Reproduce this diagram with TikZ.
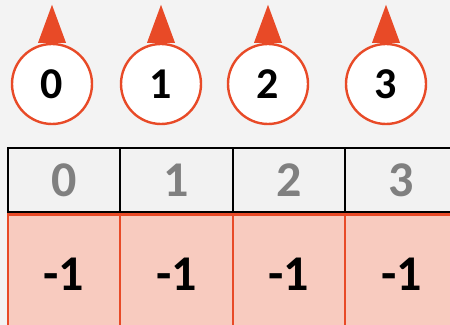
\documentclass[tikz,border=0pt]{standalone}
\usepackage{fontspec}
\setmainfont{Carlito}
\usetikzlibrary{positioning}
\definecolor{ptrorange}{HTML}{E84A27}
\definecolor{cellpink}{HTML}{F8CBBF}
\definecolor{headgray}{HTML}{F2F2F2}
\definecolor{idxgray}{HTML}{808080}
\definecolor{bggray}{HTML}{F3F3F3}

\begin{document}
\begin{tikzpicture}[
  x=0.5pt, y=-0.5pt,
  ptr/.style={circle, draw=ptrorange, line width=1.2pt, fill=white, minimum size=40pt, inner sep=0pt, font=\bfseries\fontsize{22}{22}\selectfont},
  tip/.style={fill=ptrorange},
  head/.style={rectangle, draw=black, line width=1.2pt, fill=headgray, minimum width=56.25pt, minimum height=32pt, inner sep=0pt, outer sep=0pt, text=idxgray, font=\bfseries\fontsize{25}{25}\selectfont},
  val/.style={rectangle, draw=ptrorange, line width=1.2pt, fill=cellpink, minimum width=56.25pt, minimum height=60pt, inner sep=0pt, outer sep=0pt, font=\bfseries\fontsize{25}{25}\selectfont}
]
  \useasboundingbox (0,0) rectangle (450,325);
  \clip (0,0) rectangle (450,325);
  \fill[bggray] (0,0) rectangle (450,325);

  % index row
  \node[head] (h0) at (64,180) {0};
  \node[head, right=0pt of h0] (h1) {1};
  \node[head, right=0pt of h1] (h2) {2};
  \node[head, right=0pt of h2] (h3) {3};

  % values
  \node[val, below=1.2pt of h0] (v0) {-1};
  \node[val, below=1.2pt of h1] (v1) {-1};
  \node[val, below=1.2pt of h2] (v2) {-1};
  \node[val, below=1.2pt of h3] (v3) {-1};

  % pointers
  \node[ptr] (p0) at (52,84) {0};
  \node[ptr] (p1) at (161,84) {1};
  \node[ptr] (p2) at (268,84) {2};
  \node[ptr] (p3) at (386,84) {3};
  \fill[tip] ([xshift=-7pt]p0.north) -- ([yshift=19pt]p0.north) -- ([xshift=7pt]p0.north) -- cycle;
  \fill[tip] ([xshift=-7pt]p1.north) -- ([yshift=19pt]p1.north) -- ([xshift=7pt]p1.north) -- cycle;
  \fill[tip] ([xshift=-7pt]p2.north) -- ([yshift=19pt]p2.north) -- ([xshift=7pt]p2.north) -- cycle;
  \fill[tip] ([xshift=-7pt]p3.north) -- ([yshift=19pt]p3.north) -- ([xshift=7pt]p3.north) -- cycle;
\end{tikzpicture}
\end{document}
